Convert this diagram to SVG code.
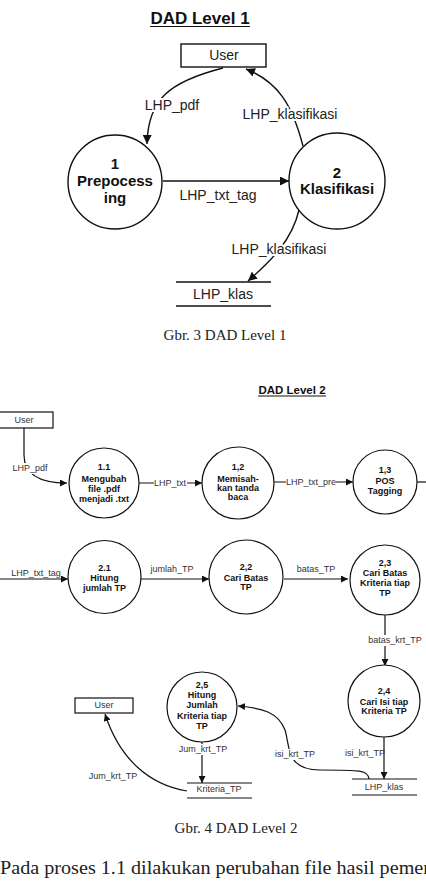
<svg xmlns="http://www.w3.org/2000/svg" width="426" height="882" viewBox="0 0 426 882">
<defs>
<style>
.bg{fill:#fff}
.l1{fill:none;stroke:#111;stroke-width:1.4}
.l2{fill:none;stroke:#111;stroke-width:1.2}
.node1{fill:#fff;stroke:#111;stroke-width:1.4}
.node2{fill:#fff;stroke:#111;stroke-width:1.2}
.t1{font-family:"Liberation Sans",Arial,sans-serif;font-size:14px;fill:#222;text-anchor:middle}
.b1{font-family:"Liberation Sans",Arial,sans-serif;font-size:15px;font-weight:bold;fill:#111;text-anchor:middle}
.t2{font-family:"Liberation Sans",Arial,sans-serif;font-size:9px;fill:#333;text-anchor:middle}
.b2{font-family:"Liberation Sans",Arial,sans-serif;font-size:9px;font-weight:bold;fill:#111;text-anchor:middle}
.halo{stroke:#fff;stroke-width:4;paint-order:stroke;stroke-linejoin:round}
.cap{font-family:"Liberation Serif","Times New Roman",serif;fill:#222;text-anchor:middle}
</style>
<marker id="a1" viewBox="0 0 10 10" refX="10" refY="5" markerWidth="9" markerHeight="9" markerUnits="userSpaceOnUse" orient="auto"><path d="M0,0L10,5L0,10z" fill="#111"/></marker>
<marker id="a2" viewBox="0 0 10 10" refX="10" refY="5" markerWidth="7" markerHeight="7" markerUnits="userSpaceOnUse" orient="auto"><path d="M0,0L10,5L0,10z" fill="#111"/></marker>
</defs>
<rect class="bg" x="0" y="0" width="426" height="882"/>

<!-- Level 1 -->
<text x="200" y="24" font-family="'Liberation Sans',Arial,sans-serif" font-size="17" font-weight="bold" text-anchor="middle" fill="#111">DAD Level 1</text>
<line x1="150" y1="26.5" x2="250" y2="26.5" stroke="#111" stroke-width="1.2"/>

<g id="connectors-l1">
<path class="l1" d="M223,68 C168,82 148,100 147,144" marker-end="url(#a1)"/>
<path class="l1" d="M303,146 C292,104 278,82 246,69" marker-end="url(#a1)"/>
<path class="l1" d="M163,181 L289,181" marker-end="url(#a1)"/>
<path class="l1" d="M299,210 C292,240 272,260 248,281" marker-end="url(#a1)"/>
<text class="t1 halo" x="172" y="110">LHP_pdf</text>
<text class="t1 halo" x="290" y="119">LHP_klasifikasi</text>
<text class="t1" x="218" y="200">LHP_txt_tag</text>
<text class="t1 halo" x="279" y="254">LHP_klasifikasi</text>
</g>

<g id="user1">
<rect class="node1" x="181" y="44" width="85" height="23"/>
<text class="t1" x="224" y="60">User</text>
</g>
<g id="p1">
<circle class="node1" cx="115" cy="182" r="47"/>
<text class="b1" x="115" y="169">1</text>
<text class="b1" x="115" y="186">Prepocess</text>
<text class="b1" x="115" y="203">ing</text>
</g>
<g id="p2">
<circle class="node1" cx="337" cy="181" r="48"/>
<text class="b1" x="337" y="178">2</text>
<text class="b1" x="337" y="194">Klasifikasi</text>
</g>
<g id="store1">
<line class="l1" x1="176" y1="282" x2="271" y2="282"/>
<line class="l1" x1="176" y1="306" x2="271" y2="306" stroke="#555"/>
<text class="t1" x="223" y="299">LHP_klas</text>
</g>

<text class="cap" x="225" y="340" font-size="15">Gbr. 3 DAD Level 1</text>

<!-- Level 2 -->
<text x="292" y="394" font-family="'Liberation Sans',Arial,sans-serif" font-size="11.5" font-weight="bold" text-anchor="middle" fill="#111">DAD Level 2</text>
<line x1="258" y1="396" x2="326" y2="396" stroke="#111" stroke-width="1"/>

<g id="connectors-l2">
<path class="l2" d="M24,428 L24,455 C24,475 40,483 67,483" marker-end="url(#a2)"/>
<path class="l2" d="M139,483 L202,483" marker-end="url(#a2)"/>
<path class="l2" d="M274,482 L353,482" marker-end="url(#a2)"/>
<path class="l2" d="M417,482 L426,482"/>
<path class="l2" d="M0,579 L68,579" marker-end="url(#a2)"/>
<path class="l2" d="M141,579 L209,579" marker-end="url(#a2)"/>
<path class="l2" d="M284,579 L348,579" marker-end="url(#a2)"/>
<path class="l2" d="M385,615 L385,666" marker-end="url(#a2)"/>
<path class="l2" d="M384,737 L384,779" marker-end="url(#a2)"/>
<path class="l2" d="M369,779 C368,770 360,770 320,770 C285,770 290,745 285,730 C278,712 262,708 238,706" marker-end="url(#a2)"/>
<path class="l2" d="M202,742 L202,783" marker-end="url(#a2)"/>
<path class="l2" d="M187,791 C150,785 120,760 105,714" marker-end="url(#a2)"/>
<rect class="bg" x="12" y="463" width="36" height="11"/>
<text class="t2" x="30" y="471">LHP_pdf</text>
<rect class="bg" x="154" y="478" width="33" height="11"/>
<text class="t2" x="170" y="486">LHP_txt</text>
<rect class="bg" x="286" y="477" width="50" height="11"/>
<text class="t2" x="311" y="485">LHP_txt_pre</text>
<text class="t2" x="36" y="576">LHP_txt_tag</text>
<text class="t2" x="172" y="572">jumlah_TP</text>
<text class="t2" x="316" y="572">batas_TP</text>
<rect class="bg" x="367" y="635" width="56" height="11"/>
<text class="t2" x="395" y="643">batas_krt_TP</text>
<text class="t2" x="365" y="756">isi_krt_TP</text>
<rect class="bg" x="274" y="749" width="42" height="11"/>
<text class="t2" x="295" y="757">isi_krt_TP</text>
<rect class="bg" x="178" y="744" width="50" height="11"/>
<text class="t2" x="203" y="752">Jum_krt_TP</text>
<text class="t2" x="113" y="779">Jum_krt_TP</text>
</g>

<g id="user2a">
<rect class="node2" x="-2" y="412" width="55" height="16"/>
<text class="t2" x="24" y="423">User</text>
</g>
<g id="p1-1">
<circle class="node2" cx="104" cy="483" r="35"/>
<text class="b2" x="104" y="470">1.1</text>
<text class="b2" x="104" y="482">Mengubah</text>
<text class="b2" x="104" y="492">file .pdf</text>
<text class="b2" x="104" y="502">menjadi .txt</text>
</g>
<g id="p1-2">
<circle class="node2" cx="238" cy="483" r="36"/>
<text class="b2" x="238" y="470">1,2</text>
<text class="b2" x="238" y="482">Memisah-</text>
<text class="b2" x="238" y="491">kan tanda</text>
<text class="b2" x="238" y="500">baca</text>
</g>
<g id="p1-3">
<circle class="node2" cx="385" cy="482" r="32"/>
<text class="b2" x="385" y="473">1,3</text>
<text class="b2" x="385" y="484">POS</text>
<text class="b2" x="385" y="494">Tagging</text>
</g>
<g id="p2-1">
<circle class="node2" cx="104.5" cy="577" r="36.5"/>
<text class="b2" x="104.5" y="571">2.1</text>
<text class="b2" x="104.5" y="581">Hitung</text>
<text class="b2" x="104.5" y="591">jumlah TP</text>
</g>
<g id="p2-2">
<circle class="node2" cx="246" cy="577" r="37"/>
<text class="b2" x="246" y="570">2,2</text>
<text class="b2" x="246" y="581">Cari Batas</text>
<text class="b2" x="246" y="590">TP</text>
</g>
<g id="p2-3">
<circle class="node2" cx="385" cy="580" r="35"/>
<text class="b2" x="385" y="566">2,3</text>
<text class="b2" x="385" y="576">Cari Batas</text>
<text class="b2" x="385" y="586">Kriteria tiap</text>
<text class="b2" x="385" y="596">TP</text>
</g>
<g id="p2-4">
<circle class="node2" cx="384" cy="701" r="36"/>
<text class="b2" x="384" y="694">2,4</text>
<text class="b2" x="384" y="705">Cari Isi tiap</text>
<text class="b2" x="384" y="714">Kriteria TP</text>
</g>
<g id="p2-5">
<circle class="node2" cx="202" cy="707" r="35"/>
<text class="b2" x="202" y="688">2,5</text>
<text class="b2" x="202" y="698">Hitung</text>
<text class="b2" x="202" y="708">Jumlah</text>
<text class="b2" x="202" y="719">Kriteria tiap</text>
<text class="b2" x="202" y="729">TP</text>
</g>
<g id="store-lhp-klas">
<line class="l2" x1="352" y1="779" x2="417" y2="779"/>
<line class="l2" x1="352" y1="795" x2="417" y2="795"/>
<text class="t2" x="384" y="790">LHP_klas</text>
</g>
<g id="store-kriteria">
<line class="l2" x1="187" y1="783" x2="252" y2="783"/>
<line class="l2" x1="187" y1="798" x2="252" y2="798"/>
<text class="t2" x="219" y="792">Kriteria_TP</text>
</g>
<g id="user2b">
<rect class="node2" x="75" y="698" width="58" height="15"/>
<text class="t2" x="104" y="708">User</text>
</g>

<text class="cap" x="236" y="833" font-size="15">Gbr. 4 DAD Level 2</text>
<text class="cap" x="0" y="874" font-size="19.5" text-anchor="start" style="text-anchor:start" textLength="430" lengthAdjust="spacingAndGlyphs">Pada proses 1.1 dilakukan perubahan file hasil pemer</text>
</svg>
